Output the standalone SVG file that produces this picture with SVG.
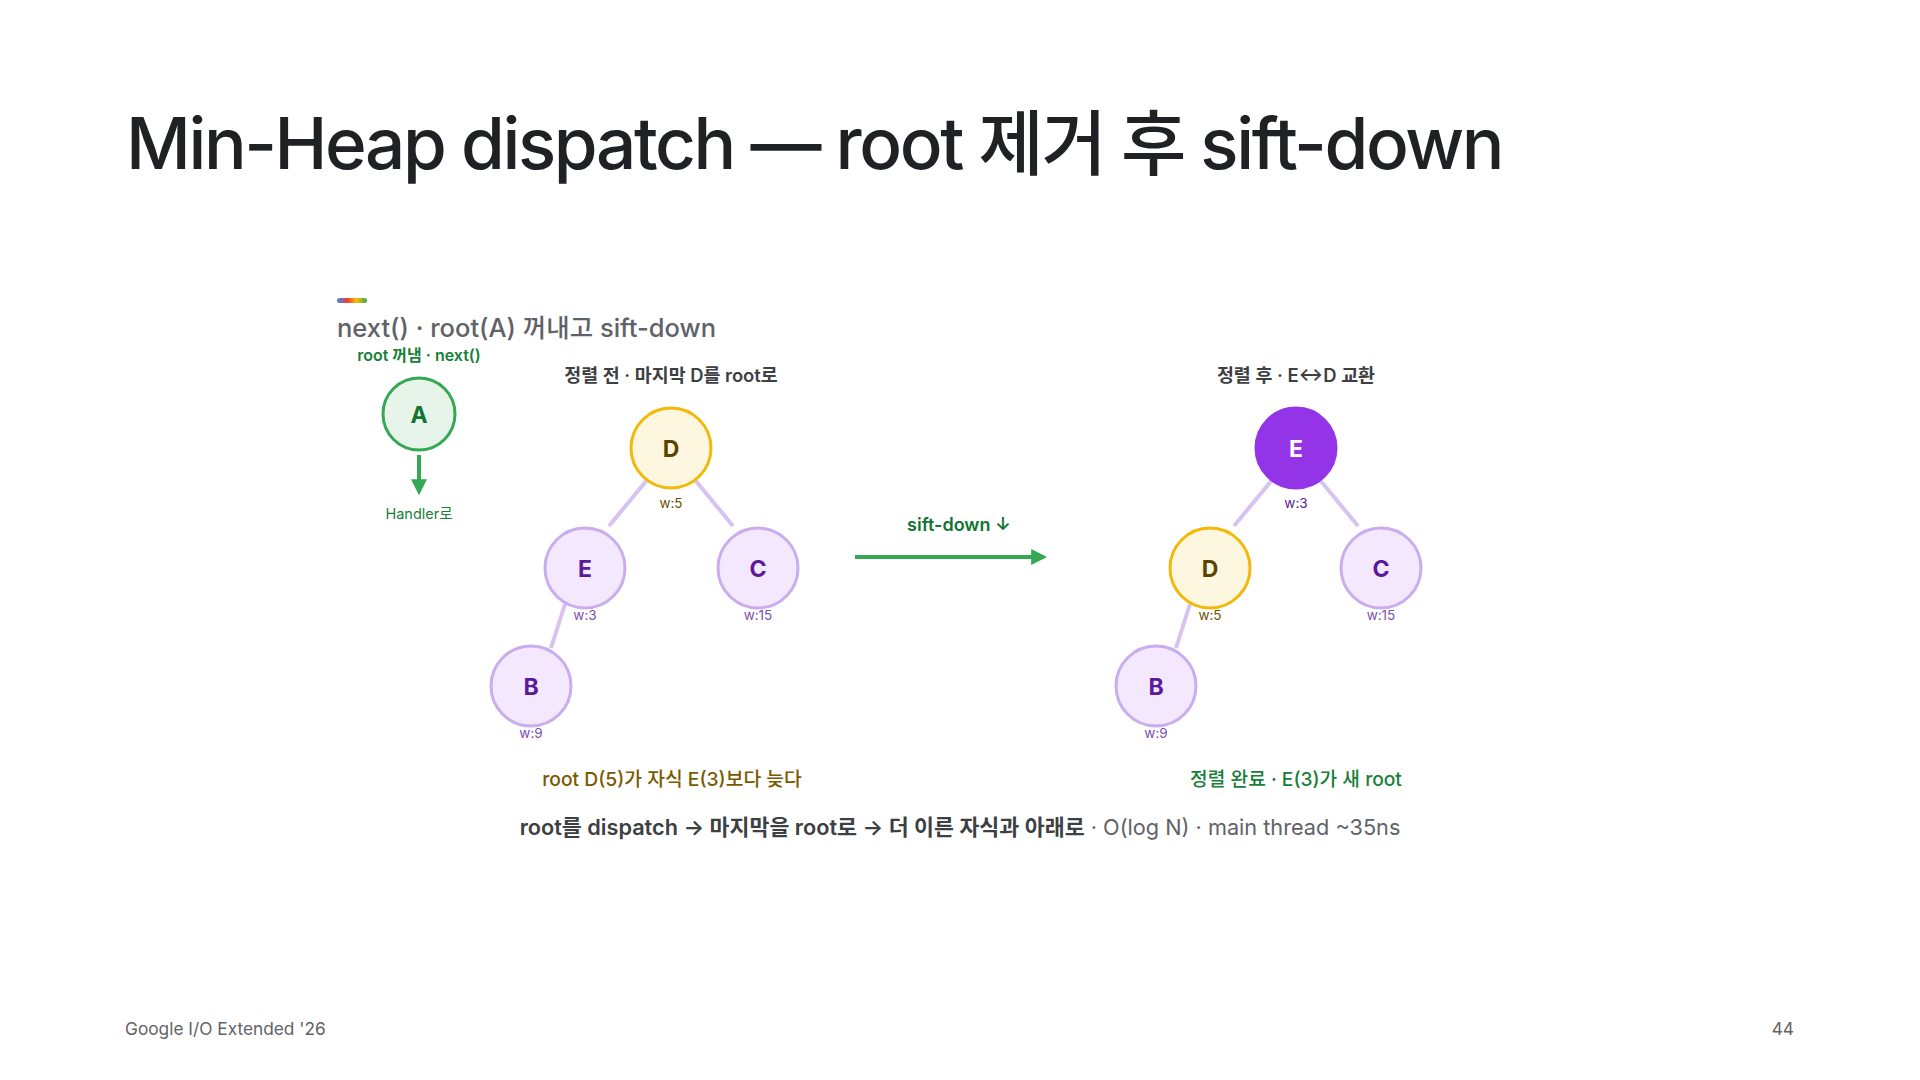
<svg xmlns="http://www.w3.org/2000/svg" width="1920" height="1080" viewBox="0 0 1920 1080">
<defs>
<linearGradient id="rb" x1="0" x2="1" y1="0" y2="0">
<stop offset="0" stop-color="#4285f4"/><stop offset="0.35" stop-color="#ea4335"/><stop offset="0.65" stop-color="#fbbc04"/><stop offset="1" stop-color="#34a853"/>
</linearGradient>
<marker id="ag" viewBox="0 0 10 10" refX="8" refY="5" markerWidth="4" markerHeight="4" orient="auto" markerUnits="strokeWidth">
<path d="M0,0 L10,5 L0,10 z" fill="#34a853"/>
</marker>
</defs>
<style>
text{font-family:Inter,"Noto Sans","Noto Sans CJK KR",sans-serif;}
.title{font-size:71px;font-weight:500;fill:#202124;letter-spacing:-2.4px;}
.sub{font-size:25.5px;font-weight:500;fill:#5f6368;}
.hd{font-size:18.4px;font-weight:600;fill:#3c4043;text-anchor:middle;}
.lbl{font-size:23px;font-weight:700;text-anchor:middle;dominant-baseline:central;}
.w{font-size:13.5px;text-anchor:middle;}
.edge{stroke:#d7c3f2;stroke-width:4;fill:none;}
.pn circle{fill:#f3e8fd;stroke:#c9adee;stroke-width:3;}
.pn text.lbl{fill:#5a1a9a;}
.pn text.w{fill:#7b4fb0;}
.yn circle{fill:#fef7e0;stroke:#f2b90c;stroke-width:3;}
.yn text.lbl{fill:#5c4400;}
.yn text.w{fill:#6b5300;}
.en circle{fill:#9334e6;stroke:#9334e6;stroke-width:3;}
.en text.lbl{fill:#ffffff;}
.en text.w{fill:#5a1a9a;}
</style>
<rect width="1920" height="1080" fill="#ffffff"/>
<text class="title" x="126" y="169">Min-Heap dispatch — root 제거 후 sift-down</text>
<rect x="337" y="298" width="30" height="5" rx="2.5" fill="url(#rb)"/>
<text class="sub" x="337" y="337">next() · root(A) 꺼내고 sift-down</text>

<g id="connectors">
<line class="edge" x1="647" y1="480" x2="609" y2="526"/>
<line class="edge" x1="695" y1="480" x2="733" y2="526"/>
<line class="edge" x1="565" y1="604" x2="551" y2="648"/>
<line class="edge" x1="1272" y1="480" x2="1234" y2="526"/>
<line class="edge" x1="1320" y1="480" x2="1358" y2="526"/>
<line class="edge" x1="1190" y1="604" x2="1176" y2="648"/>
<line x1="419" y1="455" x2="419" y2="492" stroke="#34a853" stroke-width="4" marker-end="url(#ag)"/>
<line x1="855" y1="557" x2="1044" y2="557" stroke="#34a853" stroke-width="4" marker-end="url(#ag)"/>
</g>

<g id="nodeA">
<text x="419" y="361" text-anchor="middle" font-size="16" font-weight="600" fill="#188038">root 꺼냄 · next()</text>
<circle cx="419" cy="414" r="36" fill="#e6f4ea" stroke="#34a853" stroke-width="3"/>
<text class="lbl" x="419" y="415" fill="#137333">A</text>
<text x="419" y="519" text-anchor="middle" font-size="14.5" fill="#188038">Handler로</text>
</g>

<text class="hd" x="671" y="382">정렬 전 · 마지막 D를 root로</text>
<g id="L_D" class="yn"><circle cx="671" cy="448" r="40"/><text class="lbl" x="671" y="449">D</text><text class="w" x="671" y="508">w:5</text></g>
<g id="L_E" class="pn"><circle cx="585" cy="568" r="40"/><text class="lbl" x="585" y="569">E</text><text class="w" x="585" y="620">w:3</text></g>
<g id="L_C" class="pn"><circle cx="758" cy="568" r="40"/><text class="lbl" x="758" y="569">C</text><text class="w" x="758" y="620">w:15</text></g>
<g id="L_B" class="pn"><circle cx="531" cy="686" r="40"/><text class="lbl" x="531" y="687">B</text><text class="w" x="531" y="738">w:9</text></g>
<text x="672" y="786" text-anchor="middle" font-size="19.3" font-weight="500" fill="#7a5a00">root D(5)가 자식 E(3)보다 늦다</text>

<text x="959" y="531" text-anchor="middle" font-size="18" font-weight="600" fill="#137333">sift-down ↓</text>

<text class="hd" x="1296" y="382">정렬 후 · E↔D 교환</text>
<g id="R_E" class="en"><circle cx="1296" cy="448" r="40"/><text class="lbl" x="1296" y="449">E</text><text class="w" x="1296" y="508">w:3</text></g>
<g id="R_D" class="yn"><circle cx="1210" cy="568" r="40"/><text class="lbl" x="1210" y="569">D</text><text class="w" x="1210" y="620">w:5</text></g>
<g id="R_C" class="pn"><circle cx="1381" cy="568" r="40"/><text class="lbl" x="1381" y="569">C</text><text class="w" x="1381" y="620">w:15</text></g>
<g id="R_B" class="pn"><circle cx="1156" cy="686" r="40"/><text class="lbl" x="1156" y="687">B</text><text class="w" x="1156" y="738">w:9</text></g>
<text x="1296" y="786" text-anchor="middle" font-size="19.2" font-weight="500" fill="#188038">정렬 완료 · E(3)가 새 root</text>

<text x="960" y="835" text-anchor="middle" font-size="21.7"><tspan font-weight="600" fill="#3c4043">root를 dispatch → 마지막을 root로 → 더 이른 자식과 아래로</tspan><tspan fill="#5f6368"> · O(log N) · main thread ~35ns</tspan></text>

<text x="125" y="1035" font-size="17.3" fill="#5f6368">Google I/O Extended '26</text>
<text x="1794" y="1035" font-size="17.3" fill="#5f6368" text-anchor="end">44</text>
</svg>
